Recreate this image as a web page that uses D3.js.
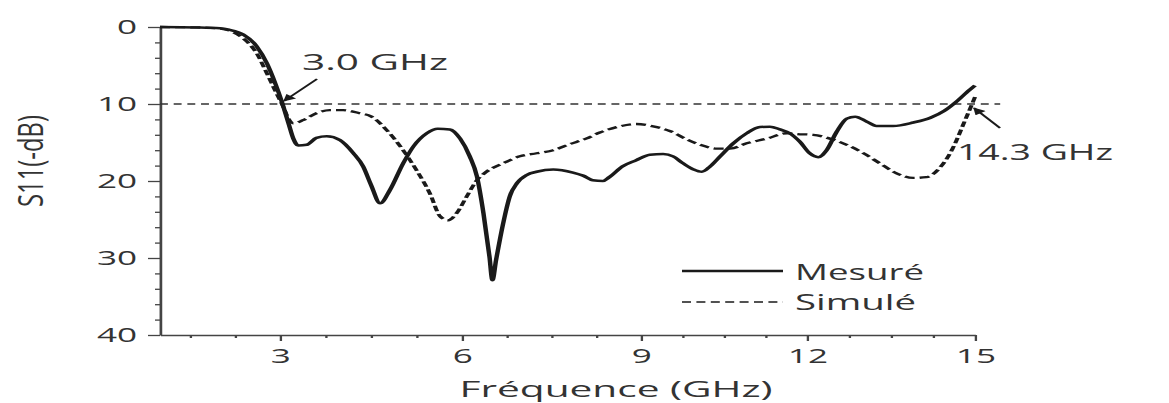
<!DOCTYPE html>
<html>
<head>
<meta charset="utf-8">
<script src="https://cdn.jsdelivr.net/npm/d3@7"></script>
<style>
  body { margin: 0; background: #fff; }
  svg { display: block; font-family: "Open Sans", sans-serif; }
</style>
</head>
<body>
<script>
// Mesuré : S11 (-dB) against frequency (GHz)
const measFreq = [1.0, 1.6, 2.0, 2.15, 2.39, 2.61, 2.78, 2.92, 3.03, 3.14, 3.22, 3.30, 3.44, 3.60, 3.77, 3.99,
  4.21, 4.37, 4.50, 4.65, 4.81, 5.03, 5.20, 5.42, 5.60, 5.80, 5.97, 6.13, 6.25, 6.36, 6.46, 6.51, 6.57, 6.69,
  6.80, 6.92, 7.09, 7.25, 7.53, 7.86, 8.03, 8.19, 8.36, 8.47, 8.69, 8.92, 9.16, 9.40, 9.58, 9.76, 9.95, 10.10,
  10.25, 10.43, 10.67, 10.91, 11.15, 11.33, 11.51, 11.69, 11.87, 12.05, 12.20, 12.35, 12.53, 12.71, 12.86,
  13.07, 13.24, 13.54, 13.90, 14.20, 14.45, 14.65, 14.85, 15.0];
const measDb = [0.0, 0.05, 0.15, 0.35, 1.0, 2.5, 4.7, 7.3, 9.7, 12.5, 14.5, 15.4, 15.3, 14.4, 14.2, 14.7,
  16.4, 18.1, 20.5, 22.9, 21.2, 17.7, 15.5, 13.8, 13.2, 13.3, 14.5, 16.8, 19.4, 24.2, 29.8, 32.9, 30.3, 25.5,
  22.0, 20.3, 19.2, 18.8, 18.5, 18.9, 19.3, 19.9, 20.0, 19.5, 18.1, 17.3, 16.6, 16.5, 16.8, 17.7, 18.5, 18.8,
  18.1, 16.8, 15.1, 13.8, 13.0, 12.95, 13.3, 13.8, 14.9, 16.4, 16.9, 16.0, 13.6, 11.9, 11.65,
  12.3, 12.85, 12.85, 12.4, 11.8, 10.9, 9.8, 8.5, 7.6];

// Simulé
const simFreq = [1.0, 1.6, 2.0, 2.2, 2.39, 2.61, 2.78, 2.94, 3.05, 3.14, 3.22, 3.38, 3.60, 3.82, 4.04, 4.31,
  4.50, 4.76, 5.03, 5.25, 5.47, 5.64, 5.77, 5.91, 6.08, 6.25, 6.41, 6.69, 6.97, 7.25, 7.53, 7.81, 8.08, 8.31,
  8.59, 8.92, 9.22, 9.52, 9.83, 10.07, 10.37, 10.61, 10.91, 11.27, 11.64, 11.81, 12.11, 12.41, 12.71, 13.01,
  13.30, 13.60, 13.90, 14.13, 14.37, 14.60, 14.80, 15.0];
const simDb = [0.0, 0.05, 0.2, 0.6, 1.5, 3.4, 6.0, 8.6, 10.3, 11.9, 12.5, 12.1, 11.2, 10.8, 10.8, 11.2,
  11.6, 13.4, 16.0, 18.6, 21.6, 24.6, 25.1, 24.2, 22.0, 19.9, 18.8, 17.7, 16.8, 16.4, 16.0, 15.2, 14.5, 13.7,
  13.0, 12.6, 12.9, 13.5, 14.6, 15.3, 15.8, 15.8, 15.1, 14.5, 13.8, 13.9, 14.0, 14.5, 15.3, 16.4,
  17.7, 19.0, 19.6, 19.5, 18.3, 15.8, 12.5, 9.1];

const xTicks = [3, 6, 9, 12, 15];
const yTicks = [0, 10, 20, 30, 40];
const threshold = 10;
const seriesNames = ["Mesuré", "Simulé"];
const annotations = ["3.0 GHz", "14.3 GHz"];

const W = 1169, H = 403;
const SX = 1.8;   // the original figure is stretched sideways, so draw narrow and scale it
const ink = "#1a1a1a", textCol = "#333";

const svg = d3.select("body").append("svg").attr("width", W).attr("height", H);
const root = svg.append("g").attr("transform", `scale(${SX},1)`);

// frequency axis is not quite even in the picture
const x = d3.scaleLinear()
  .domain([1, 3, 6, 9, 12, 15])
  .range([160, 280, 462, 641, 807, 975].map(v => v / SX));
const y = d3.scaleLinear().domain([0, 40]).range([27, 335]);

// minor ticks
root.append("g")
  .attr("transform", `translate(${x(1)},0)`)
  .call(d3.axisLeft(y).tickValues(d3.range(2, 40, 2).filter(v => v % 10)).tickSize(5 / SX).tickFormat(""))
  .call(g => g.select(".domain").remove());
root.append("g")
  .attr("transform", `translate(0,${y(40)})`)
  .call(d3.axisBottom(x).tickValues(d3.range(1.5, 15, 0.75).filter(v => v % 3)).tickSize(3).tickFormat(""))
  .call(g => g.select(".domain").remove());

// main axes
const yAxis = root.append("g")
  .attr("transform", `translate(${x(1)},0)`)
  .call(d3.axisLeft(y).tickValues(yTicks).tickSize(12 / SX).tickSizeOuter(0).tickFormat(d3.format("d")));
yAxis.selectAll("text").attr("x", -23 / SX);

const xAxis = root.append("g")
  .attr("transform", `translate(0,${y(40)})`)
  .call(d3.axisBottom(x).tickValues(xTicks).tickSize(6).tickSizeOuter(0));
xAxis.selectAll("text").attr("y", 28).attr("dy", null);

root.selectAll(".tick line").attr("stroke", "#444").attr("stroke-width", 1.3);
root.selectAll(".domain").attr("stroke", "#444").attr("stroke-width", 1.5);
root.selectAll(".tick text")
  .attr("fill", textCol)
  .style("font-family", "'Open Sans', sans-serif")
  .style("font-size", "19.5px");

// 10 dB reference line
root.append("line")
  .attr("x1", x(1)).attr("x2", x(15.45))
  .attr("y1", y(threshold)).attr("y2", y(threshold))
  .attr("stroke", "#333").attr("stroke-width", 1.3)
  .attr("stroke-dasharray", "4.4,3.2");

// curves
const line = d3.line().x(d => x(d[0])).y(d => y(d[1])).curve(d3.curveMonotoneX);
const meas = d3.zip(measFreq, measDb);
const sim = d3.zip(simFreq, simDb);

root.append("path").datum(sim)
  .attr("d", line).attr("fill", "none")
  .attr("stroke", ink).attr("stroke-width", 2.3)
  .attr("stroke-dasharray", "5.6,2.8");
root.append("path").datum(meas)
  .attr("d", line).attr("fill", "none")
  .attr("stroke", ink).attr("stroke-width", 2.5);

// arrows for the two crossing frequencies
svg.append("defs").append("marker")
  .attr("id", "head").attr("viewBox", "0 0 10 10")
  .attr("refX", 9).attr("refY", 5)
  .attr("markerWidth", 9).attr("markerHeight", 7)
  .attr("markerUnits", "userSpaceOnUse")
  .attr("orient", "auto")
  .append("path").attr("d", "M0,0L10,5L0,10z").attr("fill", ink);

function arrow(x1, y1, x2, y2) {
  root.append("line")
    .attr("x1", x1 / SX).attr("y1", y1).attr("x2", x2 / SX).attr("y2", y2)
    .attr("stroke", ink).attr("stroke-width", 1.4)
    .attr("marker-end", "url(#head)");
}
function label(txt, px, py, size, width, extra) {
  const t = root.append("text")
    .attr("x", px / SX).attr("y", py)
    .attr("fill", textCol)
    .style("font-size", size + "px")
    .text(txt);
  if (width) t.attr("textLength", width / SX).attr("lengthAdjust", "spacingAndGlyphs");
  if (extra) extra(t);
  return t;
}

arrow(317, 79, 284, 101);
label(annotations[0], 302, 70, 21.5, 146);
arrow(1000, 128, 974, 108);
label(annotations[1], 957, 160, 21.5, 156);

// legend
root.append("line")
  .attr("x1", 682 / SX).attr("x2", 783 / SX).attr("y1", 271).attr("y2", 271)
  .attr("stroke", ink).attr("stroke-width", 2.5);
root.append("line")
  .attr("x1", 682 / SX).attr("x2", 783 / SX).attr("y1", 302).attr("y2", 302)
  .attr("stroke", ink).attr("stroke-width", 1.6)
  .attr("stroke-dasharray", "5,3");
label(seriesNames[0], 795, 280, 22.5, 129);
label(seriesNames[1], 795, 310, 22.5, 121);

// axis titles
label("Fréquence (GHz)", 616, 397, 22, 313, t => t.attr("text-anchor", "middle"));
root.append("text")
  .attr("transform", `translate(${43 / SX},161) rotate(-90)`)
  .attr("text-anchor", "middle")
  .attr("fill", textCol)
  .style("font-size", "19px")
  .attr("textLength", 92).attr("lengthAdjust", "spacingAndGlyphs")
  .text("S11(-dB)");
</script>
</body>
</html>
